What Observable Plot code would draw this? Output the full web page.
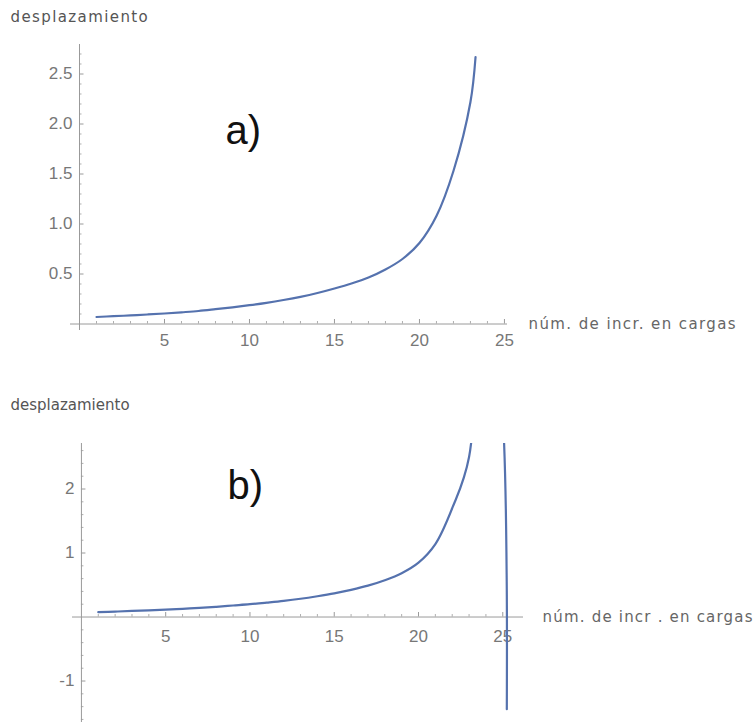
<!DOCTYPE html>
<html><head><meta charset="utf-8">
<script src="https://cdn.jsdelivr.net/npm/d3@7"></script>
<script src="https://cdn.jsdelivr.net/npm/@observablehq/plot@0.6"></script>
<style>body{margin:0;background:#fff} svg{display:block}</style>
</head><body><div id="c"></div><script>
// ---- data ----
const xA = [1,2,3,4,5,6,7,8,9,10,11,12,13,14,15,16,17,18,19,20,21,22,23,23.3];
const yA = [0.07,0.078,0.086,0.095,0.105,0.117,0.13,0.148,0.167,0.188,0.212,0.24,0.272,0.31,0.355,0.405,0.465,0.545,0.65,0.81,1.08,1.53,2.22,2.67];
const xB = [1,2,3,4,5,6,7,8,9,10,11,12,13,14,15,16,17,18,19,20,21,22,23,24,25.05,25.23,25.24];
const yB = [0.075,0.085,0.095,0.105,0.115,0.128,0.142,0.16,0.18,0.2,0.225,0.252,0.285,0.325,0.37,0.425,0.49,0.575,0.685,0.85,1.14,1.7,2.5,7,2.9,0.68,-1.44];

const xTicks = [5,10,15,20,25];
const xTickLabels = ["5","10","15","20","25"];
const xMinorTicks = [1,2,3,4,6,7,8,9,11,12,13,14,16,17,18,19,21,22,23,24];
const yTicksA = [0.5,1,1.5,2,2.5];
const yTickLabelsA = ["0.5","1.0","1.5","2.0","2.5"];
const yMinorA = [0.1,0.2,0.3,0.4,0.6,0.7,0.8,0.9,1.1,1.2,1.3,1.4,1.6,1.7,1.8,1.9,2.1,2.2,2.3,2.4,2.6,2.7];
const yTicksB = [-1,1,2];
const yTickLabelsB = ["-1","1","2"];
const yMinorB = [-1.6,-1.4,-1.2,-0.8,-0.6,-0.4,-0.2,0.2,0.4,0.6,0.8,1.2,1.4,1.6,1.8,2.2,2.4,2.6];

const yLabel = "desplazamiento";
const xLabelA = "núm. de incr. en cargas";
const xLabelB = "núm. de incr . en cargas";
const panelA = "a)";
const panelB = "b)";

const axisColor = "#9a9a9a";
const labelColor = "#777";
const lineColor = "#5572ae";

function chart(o) {
  const xs = o.x.map((x, i) => ({x, y: o.y[i]}));
  const pxX = (754 - o.ml - o.mr) / (o.xd[1] - o.xd[0]);
  const pxY = (o.h - o.mt - o.mb) / (o.yd[1] - o.yd[0]);
  const svg = Plot.plot({
    width: 754, height: o.h,
    marginLeft: o.ml, marginRight: o.mr, marginTop: o.mt, marginBottom: o.mb,
    x: {domain: o.xd, axis: null},
    y: {domain: o.yd, axis: null},
    style: {background: "#fff", fontFamily: "Liberation Sans, Arial, sans-serif", overflow: "visible"},
    marks: [
      Plot.ruleY([0], {stroke: axisColor, strokeWidth: 1}),
      Plot.ruleX([0], {stroke: axisColor, strokeWidth: 1}),
      Plot.ruleX(xTicks, {x: d => d, y1: 0, y2: 4.5 / pxY, stroke: axisColor}),
      Plot.ruleX(xMinorTicks, {x: d => d, y1: 0, y2: 2.5 / pxY, stroke: axisColor, strokeOpacity: 0.8}),
      Plot.ruleY(o.yt, {y: d => d, x1: 0, x2: 4.5 / pxX, stroke: axisColor}),
      Plot.ruleY(o.ym, {y: d => d, x1: 0, x2: 2.5 / pxX, stroke: axisColor, strokeOpacity: 0.8}),
      Plot.text(xTicks, {x: d => d, y: 0, text: (d, i) => xTickLabels[i], dy: o.xdy, fill: labelColor, fontSize: 17, lineAnchor: "middle"}),
      Plot.text(o.yt, {y: d => d, x: 0, text: (d, i) => o.ytl[i], dx: -7, textAnchor: "end", fill: labelColor, fontSize: 17, lineAnchor: "middle"}),
      Plot.line(xs, {x: "x", y: "y", stroke: lineColor, strokeWidth: 2.2, curve: "catmull-rom", clip: true}),
      Plot.text([o.panel], {text: d => d, frameAnchor: "top-left", dx: o.pdx, dy: o.pdy, textAnchor: "start", lineAnchor: "bottom", fontSize: 40, fill: "#111"}),
      Plot.text([yLabel], {text: d => d, frameAnchor: "top-left", dx: o.ydx, dy: o.ydy, textAnchor: "start", lineAnchor: "middle", fontSize: 15, fill: "#555", fontFamily: "DejaVu Sans"}),
      Plot.text([o.xl], {text: d => d, y: 0, frameAnchor: "right", dx: o.xldx, textAnchor: "start", lineAnchor: "middle", fontSize: 15, fill: "#666", fontFamily: "DejaVu Sans"})
    ]
  });
  d3.select(svg).selectAll("text").each(function() {
    const t = this.textContent;
    if (t === yLabel) this.style.letterSpacing = o.yls;
    if (t === o.xl) this.style.letterSpacing = o.xls;
  });
  return svg;
}

const c = document.getElementById("c");
c.appendChild(chart({
  x: xA, y: yA, h: 370, ml: 70, mr: 247, mt: 44, mb: 40,
  xd: [-0.53, 25.18], yd: [-0.065, 2.795],
  yt: yTicksA, ytl: yTickLabelsA, ym: yMinorA, xdy: 17,
  panel: panelA, pdx: 155, pdy: 99,
  ydx: -60, ydy: -27, yls: "1.4px",
  xl: xLabelA, xldx: 21, xls: "1.4px"
}));
c.appendChild(chart({
  x: xB, y: yB, h: 356, ml: 72, mr: 231, mt: 73, mb: 4,
  xd: [-0.53, 26.23], yd: [-1.648, 2.711],
  yt: yTicksB, ytl: yTickLabelsB, ym: yMinorB, xdy: 20,
  panel: panelB, pdx: 155, pdy: 55,
  ydx: -62, ydy: -38, yls: "0px",
  xl: xLabelB, xldx: 19, xls: "1.2px"
}));
</script></body></html>
